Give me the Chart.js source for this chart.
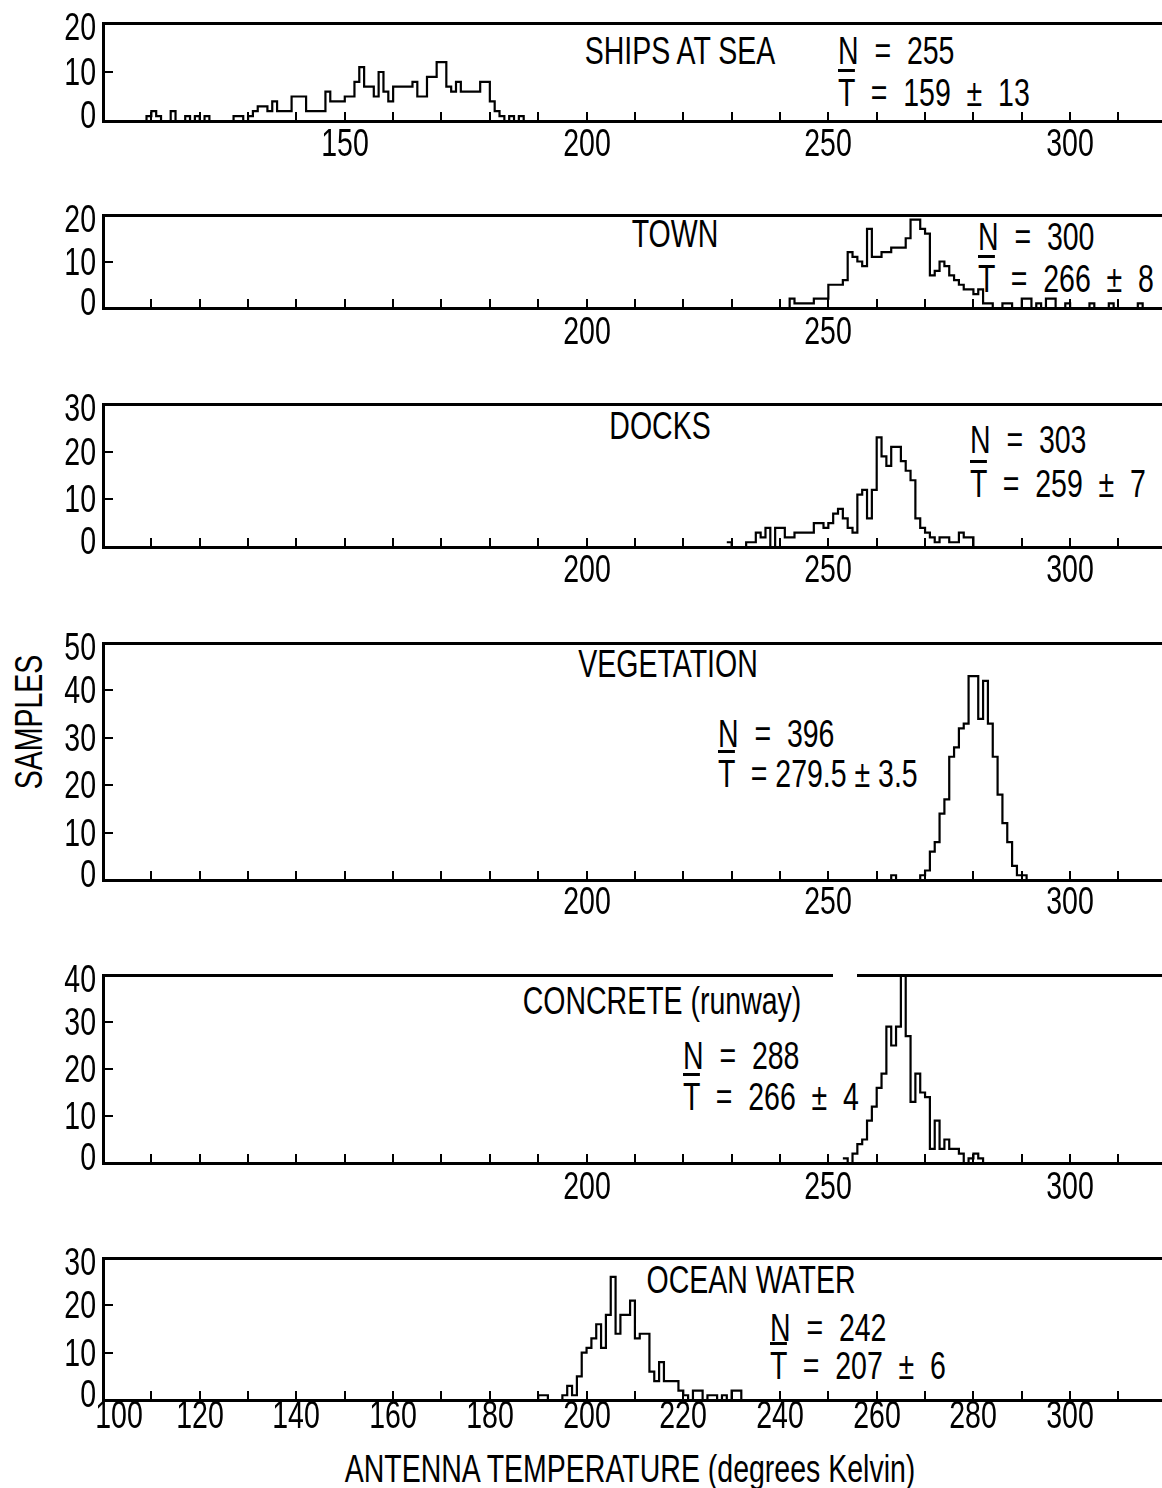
<!DOCTYPE html>
<html>
<head>
<meta charset="utf-8">
<script src="https://cdn.jsdelivr.net/npm/chart.js@4.4.0/dist/chart.umd.min.js"></script>
<style>
  body { margin: 0; background: #fff; width: 1162px; height: 1488px; position: relative; overflow: hidden;
         font-family: "Liberation Sans", Arial, sans-serif; color: #000; }
  .panel { position: absolute; left: 0; width: 1162px; }
  .t { position: absolute; font-size: 38px; line-height: 38px; white-space: pre; }
  .l { transform-origin: 0 50%; transform: translate(0, -50%) scaleX(0.75); }
  .c { transform-origin: 50% 50%; transform: translate(-50%, -50%) scaleX(0.75); }
  .r { transform-origin: 100% 50%; transform: translate(-100%, -50%) scaleX(0.75); }
  .bar { text-decoration: overline; text-decoration-thickness: 3px; }
  #ytitle { position: absolute; left: 29px; top: 722px; font-size: 38px; line-height: 38px; white-space: pre;
            transform: translate(-50%, -50%) rotate(-90deg) scaleX(0.75); }
  #gap { position: absolute; left: 833px; top: 970px; width: 24px; height: 9px; background: #fff; }
</style>
</head>
<body>

<div class="t c" style="left:680px;top:51px">SHIPS AT SEA</div>
<div class="t l" style="left:838px;top:51px">N  =  255</div>
<div class="t l" style="left:838px;top:93px"><span class="bar">T</span>  =  159  ±  13</div>

<div class="t c" style="left:675px;top:234px">TOWN</div>
<div class="t l" style="left:978px;top:237px">N  =  300</div>
<div class="t l" style="left:978px;top:279px"><span class="bar">T</span>  =  266  ±  8</div>

<div class="t c" style="left:660px;top:426px">DOCKS</div>
<div class="t l" style="left:970px;top:440px">N  =  303</div>
<div class="t l" style="left:970px;top:484px"><span class="bar">T</span>  =  259  ±  7</div>

<div class="t c" style="left:668px;top:664px">VEGETATION</div>
<div class="t l" style="left:718px;top:734px">N  =  396</div>
<div class="t l" style="left:718px;top:774px"><span class="bar">T</span>  = 279.5 ± 3.5</div>

<div class="t c" style="left:662px;top:1001px">CONCRETE (runway)</div>
<div class="t l" style="left:683px;top:1056px">N  =  288</div>
<div class="t l" style="left:683px;top:1097px"><span class="bar">T</span>  =  266  ±  4</div>

<div class="t c" style="left:751px;top:1280px">OCEAN WATER</div>
<div class="t l" style="left:770px;top:1328px">N  =  242</div>
<div class="t l" style="left:770px;top:1366px"><span class="bar">T</span>  =  207  ±  6</div>

<div id="ytitle">SAMPLES</div>
<div class="t c" style="left:630px;top:1469px">ANTENNA TEMPERATURE (degrees Kelvin)</div>

<script>
// histogram counts, one bin per kelvin, starting at the given temperature
const shipsStart = 108;
const shipsCounts = [0, 1, 2, 1, 0, 0, 2, 0, 0, 1, 0, 1, 0, 1, 0, 0, 0, 0, 0, 1,
    1, 0, 1, 2, 3, 3, 2, 4, 2, 2, 2, 5, 5, 5, 2, 2, 2, 2, 6, 4,
    4, 4, 5, 5, 8, 11, 7, 7, 5, 10, 6, 4, 7, 7, 7, 7, 8, 5, 5, 9,
    9, 12, 12, 7, 6, 8, 6, 6, 6, 6, 8, 8, 4, 2, 1, 0, 1, 0, 1, 0];

const townStart = 240;
const townCounts = [0, 0, 2, 1, 1, 1, 1, 2, 2, 2, 5, 5, 5, 6, 12, 11, 10, 9,
    17, 11, 11, 12, 12, 13, 13, 13, 15, 19, 19, 17, 16, 7, 8, 10, 9, 7, 6, 5, 4, 4, 3, 4,
    1, 1, 0, 0, 1, 1, 0, 0, 2, 2, 0, 1, 0, 2, 2, 0, 0, 1,
    0, 0, 0, 0, 1, 0, 0, 0, 1, 0, 0, 0, 0, 0, 1, 0];

const docksStart = 229;
const docksCounts = [1, 0, 0, 0, 1, 1, 3, 2, 4, 0, 4, 4, 2, 2, 3, 3, 3, 3, 5, 5,
    4, 5, 7, 8, 6, 4, 3, 11, 12, 6, 12, 23, 19, 17, 21, 21, 18, 16, 14, 6,
    4, 3, 2, 1, 2, 2, 1, 1, 3, 2, 2, 0];

const vegStart = 262;
const vegCounts = [0, 1, 0, 0, 0, 0, 0, 1, 2, 6, 8, 14, 17, 26, 28, 32, 33, 43, 43, 34,
    42, 33, 26, 18, 12, 8, 3, 1, 1, 0];

const concreteStart = 253;
const concreteCounts = [1, 0, 2, 4, 5, 9, 12, 16, 19, 29, 25, 29, 40, 27, 13, 19, 15, 14, 3, 9,
    3, 5, 3, 3, 2, 0, 1, 2, 1, 0];

const oceanStart = 189;
const oceanCounts = [0, 1, 1, 0, 0, 0, 1, 3, 1, 5, 10, 11, 13, 16, 11, 18, 26, 14, 18, 18,
    21, 13, 14, 14, 6, 4, 8, 4, 4, 4, 2, 1, 0, 2, 2, 0, 1, 1, 0, 1,
    0, 2, 2, 0];

// labelled temperatures on each panel's axis
const shipsLabels = [150, 200, 250, 300];
const townLabels = [200, 250];
const docksLabels = [200, 250, 300];
const vegLabels = [200, 250, 300];
const concreteLabels = [200, 250, 300];
const oceanLabels = [100, 120, 140, 160, 180, 200, 220, 240, 260, 280, 300];

// sample axes
const shipsMax = 20, townMax = 20, docksMax = 30, vegMax = 50, concreteMax = 40, oceanMax = 30;

const PAD_TOP = 22;
const PAD_BOTTOM = 44;

function addText(text, x, y, cls) {
    const d = document.createElement('div');
    d.className = 't ' + cls;
    d.textContent = text;
    d.style.left = x + 'px';
    d.style.top = y + 'px';
    document.body.appendChild(d);
}

function makePanel(p) {
    const wrapTop = p.top - PAD_TOP;
    const wrap = document.createElement('div');
    wrap.className = 'panel';
    wrap.style.top = wrapTop + 'px';
    wrap.style.height = (p.bottom - p.top + PAD_TOP + PAD_BOTTOM) + 'px';
    const canvas = document.createElement('canvas');
    wrap.appendChild(canvas);
    document.body.appendChild(wrap);

    const points = p.counts.map((c, i) => ({ x: p.start + i, y: c }));

    const chart = new Chart(canvas, {
        type: 'line',
        data: {
            datasets: [{
                data: points,
                borderColor: '#000',
                borderWidth: 2.2,
                pointRadius: 0,
                stepped: true,
                fill: false
            }]
        },
        options: {
            responsive: true,
            maintainAspectRatio: false,
            animation: false,
            layout: { padding: { top: PAD_TOP, left: 0, right: 0, bottom: 0 } },
            plugins: { legend: { display: false }, tooltip: { enabled: false } },
            scales: {
                x: {
                    type: 'linear',
                    min: 100,
                    max: 319,
                    afterFit: s => { s.height = PAD_BOTTOM; },
                    grid: { drawOnChartArea: false, color: '#000', lineWidth: 2, tickLength: -9 },
                    border: { color: '#000', width: 3 },
                    ticks: { stepSize: 10, autoSkip: false, includeBounds: false, display: false }
                },
                xTop: {
                    type: 'linear',
                    axis: 'x',
                    position: 'top',
                    min: 100,
                    max: 319,
                    afterFit: s => { s.height = 0; },
                    grid: { display: false },
                    ticks: { display: false },
                    border: { color: '#000', width: 3 }
                },
                y: {
                    min: 0,
                    max: p.ymax,
                    afterFit: s => { s.width = 103; },
                    grid: { drawOnChartArea: false, color: '#000', lineWidth: 2, tickLength: -10 },
                    border: { color: '#000', width: 3 },
                    ticks: { stepSize: 10, display: false }
                }
            }
        }
    });

    // tick labels as page text, placed with the chart's own scales
    const xs = chart.scales.x;
    const ys = chart.scales.y;
    p.labels.forEach(v => {
        let px = xs.getPixelForValue(v);
        if (px - xs.left < 10) px += 16;
        addText(String(v), px, wrapTop + xs.top + p.xOff, 'c');
    });
    ys.ticks.forEach(t => {
        let nudge = 0;
        if (t.value === 0) nudge = -6;
        if (t.value === p.ymax) nudge = 4;
        addText(String(t.value), 96, wrapTop + ys.getPixelForValue(t.value) + nudge, 'r');
    });
}

makePanel({ top: 23, bottom: 121, start: shipsStart, counts: shipsCounts, labels: shipsLabels, ymax: shipsMax, xOff: 22 });
makePanel({ top: 215, bottom: 308, start: townStart, counts: townCounts, labels: townLabels, ymax: townMax, xOff: 23 });
makePanel({ top: 404, bottom: 547, start: docksStart, counts: docksCounts, labels: docksLabels, ymax: docksMax, xOff: 22 });
makePanel({ top: 643, bottom: 880, start: vegStart, counts: vegCounts, labels: vegLabels, ymax: vegMax, xOff: 21 });
makePanel({ top: 975, bottom: 1163, start: concreteStart, counts: concreteCounts, labels: concreteLabels, ymax: concreteMax, xOff: 23 });
makePanel({ top: 1258, bottom: 1400, start: oceanStart, counts: oceanCounts, labels: oceanLabels, ymax: oceanMax, xOff: 15 });

// small break in the concrete panel's top rule
const gap = document.createElement('div');
gap.id = 'gap';
document.body.appendChild(gap);
</script>
</body>
</html>
